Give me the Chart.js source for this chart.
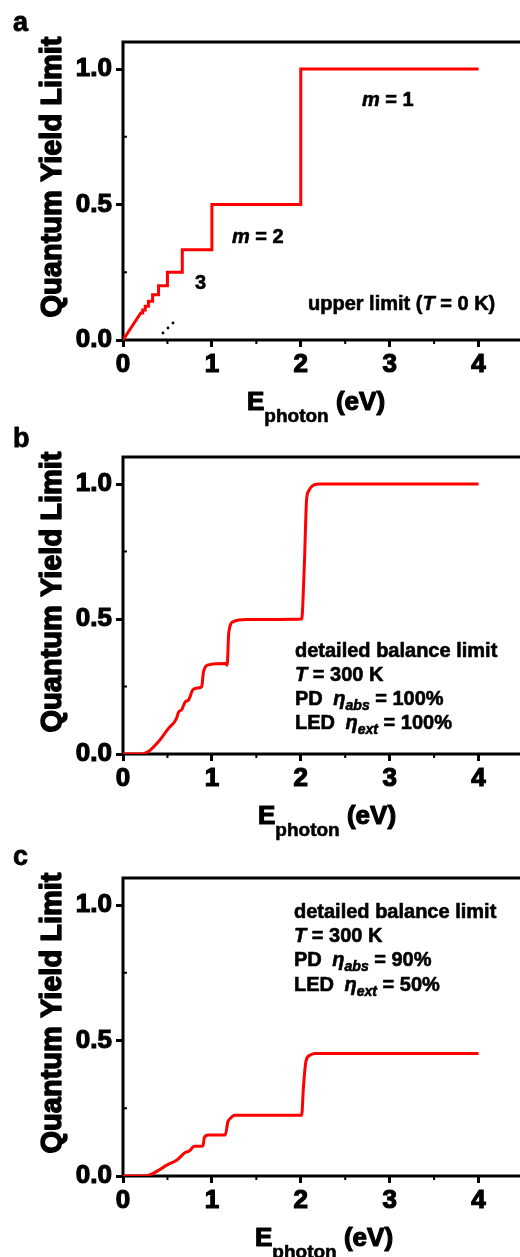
<!DOCTYPE html>
<html>
<head>
<meta charset="utf-8">
<script src="https://cdn.jsdelivr.net/npm/chart.js@4.4.1/dist/chart.umd.min.js"></script>
<style>
  html, body { margin: 0; padding: 0; background: #fff; overflow: hidden; width: 520px; height: 1257px; }
  canvas { position: absolute; left: 0; }
</style>
</head>
<body>
<canvas id="chartA" width="530" height="440" style="top:0px"></canvas>
<canvas id="chartB" width="530" height="440" style="top:410px"></canvas>
<canvas id="chartC" width="530" height="437" style="top:820px"></canvas>
<script>
const xTicks = [0, 1, 2, 3, 4];
const yTicks = [0, 0.5, 1.0];
const xMinor = [0.5, 1.5, 2.5, 3.5];
const yMinor = [0.25, 0.75];

// a: upper limit (T = 0 K), stair steps
const xA = [0, 0.2, 0.222, 0.222, 0.25, 0.25, 0.286, 0.286, 0.333, 0.333, 0.4, 0.4, 0.5, 0.5, 0.667, 0.667, 1, 1, 2, 2, 4];
const yA = [0, 0.1, 0.1, 0.111, 0.111, 0.125, 0.125, 0.143, 0.143, 0.167, 0.167, 0.2, 0.2, 0.25, 0.25, 0.333, 0.333, 0.5, 0.5, 1.0, 1.0];

// b: detailed balance, PD 100% / LED 100%
const xB = [0, 0.21, 0.29, 0.4, 0.51, 0.6, 0.625, 0.662, 0.7, 0.737, 0.786, 0.831, 0.885, 0.906, 0.962, 1.15, 1.172, 1.19, 1.24, 1.39, 2.01, 2.04, 2.065, 2.09, 2.13, 2.2, 4.0];
const yB = [0, 0, 0.01, 0.046, 0.094, 0.13, 0.155, 0.165, 0.193, 0.2, 0.238, 0.244, 0.249, 0.305, 0.33, 0.335, 0.329, 0.45, 0.49, 0.498, 0.5, 0.7, 0.94, 0.975, 0.993, 1.0, 1.0];

// c: detailed balance, PD 90% / LED 50%
const xC = [0, 0.26, 0.344, 0.4, 0.494, 0.607, 0.7, 0.75, 0.8, 0.9, 0.915, 0.96, 1.15, 1.18, 1.206, 1.255, 2.01, 2.03, 2.06, 2.105, 2.16, 4.0];
const yC = [0, 0, 0.011, 0.021, 0.04, 0.059, 0.087, 0.093, 0.11, 0.111, 0.142, 0.151, 0.151, 0.2, 0.212, 0.224, 0.224, 0.329, 0.427, 0.446, 0.452, 0.452];

const FONT = "'Liberation Sans', Arial, Helvetica, sans-serif";

// text with a thin outline so it looks as heavy as the scanned figure
function heavyText(ctx, t, x, y, w) {
  ctx.lineWidth = w;
  ctx.strokeStyle = '#000';
  ctx.lineJoin = 'round';
  ctx.strokeText(t, x, y);
  ctx.fillText(t, x, y);
}

function drawRuns(ctx, x, y, runs) {
  ctx.textAlign = 'left';
  ctx.textBaseline = 'alphabetic';
  runs.forEach(r => {
    const size = r.size || 20;
    ctx.font = (r.it ? 'italic ' : '') + 'bold ' + size + 'px ' + FONT;
    x += r.dx || 0;
    heavyText(ctx, r.t, x, y + (r.dy || 0), size > 22 ? 1.2 : 0.6);
    x += ctx.measureText(r.t).width;
  });
}

const extras = {
  id: 'extras',
  beforeDatasetsDraw(chart, args, o) {
    const ctx = chart.ctx, a = chart.chartArea;
    const xs = chart.scales.x, ys = chart.scales.y;
    ctx.save();
    ctx.strokeStyle = '#000';
    ctx.lineWidth = 3;
    ctx.strokeRect(a.left, a.top, a.right - a.left, a.bottom - a.top);
    ctx.lineWidth = 2;
    ctx.beginPath();
    xMinor.forEach(v => {
      const px = xs.getPixelForValue(v);
      ctx.moveTo(px, a.bottom); ctx.lineTo(px, a.bottom + 4);
    });
    yMinor.forEach(v => {
      const py = ys.getPixelForValue(v);
      ctx.moveTo(a.left, py); ctx.lineTo(a.left + 4, py);
    });
    ctx.stroke();
    ctx.restore();
  },
  afterDraw(chart, args, o) {
    const ctx = chart.ctx, a = chart.chartArea;
    ctx.save();
    ctx.fillStyle = '#000';
    // panel letter
    ctx.font = 'bold 27px ' + FONT;
    ctx.textAlign = 'left';
    heavyText(ctx, o.letter, 13, o.letterY, 0.8);
    // y title
    ctx.save();
    ctx.translate(61, a.top + 135);
    ctx.rotate(-Math.PI / 2);
    ctx.textAlign = 'center';
    ctx.font = 'bold 29px ' + FONT;
    heavyText(ctx, 'Quantum Yield Limit', 0, 0, 1.4);
    ctx.restore();
    // x title
    drawRuns(ctx, o.xTitleX, a.bottom + 70, [
      { t: 'E', size: 26 },
      { t: 'photon', size: 19, dy: 12 },
      { t: ' (eV)', size: 26 }
    ]);
    // annotations
    o.notes.forEach(n => drawRuns(ctx, n.x, n.y, n.runs));
    (o.dots || []).forEach(d => {
      ctx.beginPath();
      ctx.arc(d[0], d[1], 1.4, 0, Math.PI * 2);
      ctx.fill();
    });
    ctx.restore();
  }
};

function makeChart(id, xs, ys, smooth, layout, opts) {
  const tickFont = { family: FONT, size: 26, weight: 'bold' };
  new Chart(document.getElementById(id), {
    type: 'line',
    data: {
      datasets: [{
        data: xs.map((x, i) => ({ x: x, y: ys[i] })),
        borderColor: '#ff0000',
        borderWidth: 3,
        pointRadius: 0,
        tension: smooth ? 0.3 : 0,
        cubicInterpolationMode: smooth ? 'monotone' : 'default',
        borderJoinStyle: 'miter',
        fill: false
      }]
    },
    options: {
      responsive: false,
      animation: false,
      devicePixelRatio: 1,
      layout: { padding: { top: layout.top, right: 7, left: 0, bottom: 0 } },
      plugins: { legend: { display: false }, tooltip: { enabled: false }, extras: opts },
      scales: {
        x: {
          type: 'linear', min: 0, max: 4.5,
          afterFit: s => { s.height = layout.xH; },
          afterBuildTicks: s => { s.ticks = xTicks.map(v => ({ value: v })); },
          border: { display: false },
          grid: { drawOnChartArea: false, drawTicks: true, tickLength: 7, tickWidth: 3, tickColor: '#000' },
          ticks: { color: '#000', font: tickFont, padding: 2, maxRotation: 0,
                   textStrokeColor: '#000', textStrokeWidth: 1.2 }
        },
        y: {
          type: 'linear', min: 0, max: 1.1,
          afterFit: s => { s.width = 123; },
          afterBuildTicks: s => { s.ticks = yTicks.map(v => ({ value: v })); },
          border: { display: false },
          grid: { drawOnChartArea: false, drawTicks: true, tickLength: 7, tickWidth: 3, tickColor: '#000' },
          ticks: { color: '#000', font: tickFont, padding: 4,
                   textStrokeColor: '#000', textStrokeWidth: 1.2,
                   callback: v => v.toFixed(1) }
        }
      }
    },
    plugins: [extras]
  });
}

makeChart('chartA', xA, yA, false, { top: 42, xH: 100 }, {
  letter: 'a', letterY: 31, xTitleX: 247,
  notes: [
    { x: 362, y: 106, runs: [{ t: 'm', it: true }, { t: ' = 1' }] },
    { x: 232, y: 243, runs: [{ t: 'm', it: true }, { t: ' = 2' }] },
    { x: 195, y: 289, runs: [{ t: '3' }] },
    { x: 308, y: 310, runs: [{ t: 'upper limit (' }, { t: 'T', it: true }, { t: ' = 0 K)' }] }
  ],
  dots: [[163, 333], [168, 328], [173, 323]]
});

makeChart('chartB', xB, yB, true, { top: 47, xH: 96 }, {
  letter: 'b', letterY: 37, xTitleX: 258,
  notes: [
    { x: 295, y: 247, runs: [{ t: 'detailed balance limit' }] },
    { x: 295, y: 271, runs: [{ t: 'T', it: true }, { t: ' = 300 K' }] },
    { x: 295, y: 295, runs: [{ t: 'PD ' }, { t: 'η', it: true, dx: 5 }, { t: 'abs', it: true, size: 14, dy: 5 }, { t: ' = 100%' }] },
    { x: 295, y: 319, runs: [{ t: 'LED ' }, { t: 'η', it: true, dx: 5 }, { t: 'ext', it: true, size: 14, dy: 5 }, { t: ' = 100%' }] }
  ]
});

makeChart('chartC', xC, yC, true, { top: 58, xH: 81 }, {
  letter: 'c', letterY: 45, xTitleX: 255,
  notes: [
    { x: 294, y: 98, runs: [{ t: 'detailed balance limit' }] },
    { x: 294, y: 122, runs: [{ t: 'T', it: true }, { t: ' = 300 K' }] },
    { x: 294, y: 146, runs: [{ t: 'PD ' }, { t: 'η', it: true, dx: 5 }, { t: 'abs', it: true, size: 14, dy: 5 }, { t: ' = 90%' }] },
    { x: 294, y: 171, runs: [{ t: 'LED ' }, { t: 'η', it: true, dx: 5 }, { t: 'ext', it: true, size: 14, dy: 5 }, { t: ' = 50%' }] }
  ]
});
</script>
</body>
</html>
